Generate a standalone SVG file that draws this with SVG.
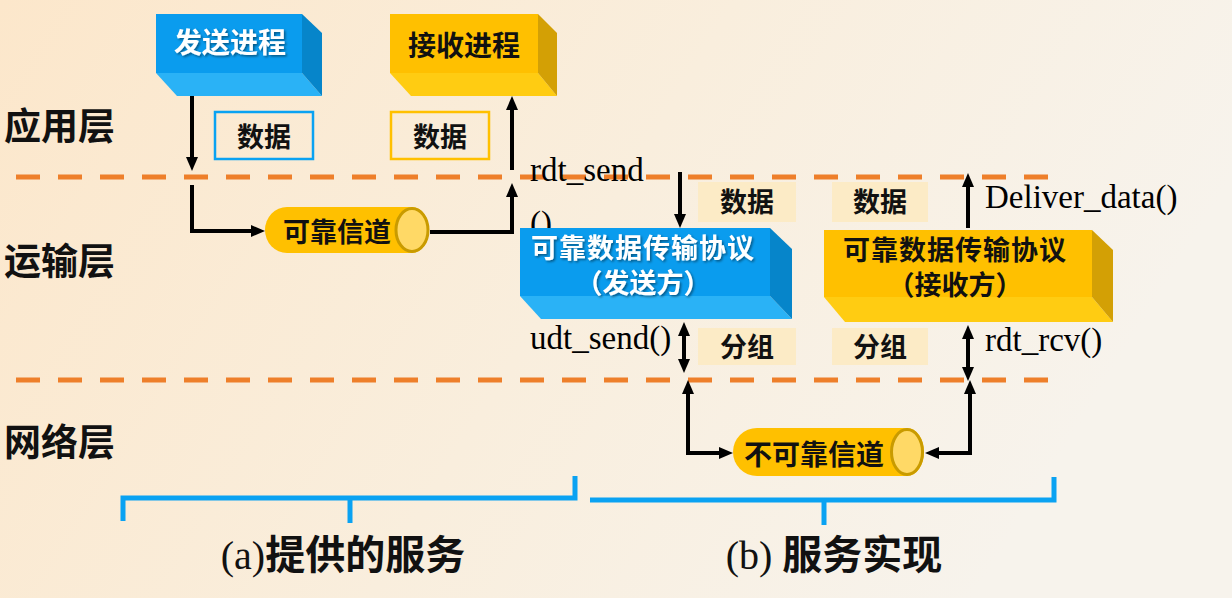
<svg xmlns="http://www.w3.org/2000/svg" width="1232" height="598" viewBox="0 0 1232 598">
  <defs>
    <linearGradient id="bg" x1="0" y1="0" x2="1" y2="0.3">
      <stop offset="0" stop-color="#fce7cb"/>
      <stop offset="0.55" stop-color="#f9eedd"/>
      <stop offset="1" stop-color="#f7f3ec"/>
    </linearGradient>
    <filter id="shadow" x="-10%" y="-20%" width="120%" height="150%">
      <feDropShadow dx="1.5" dy="1.5" stdDeviation="1" flood-color="#000" flood-opacity="0.45"/>
    </filter>
    <marker id="head" viewBox="0 0 14 12" refX="3" refY="6" markerWidth="14" markerHeight="12" markerUnits="userSpaceOnUse" orient="auto-start-reverse">
      <path d="M0,0 L14,6 L0,12 Z" fill="#000"/>
    </marker>
    <style>
      .layer { font-family: "Noto Sans CJK SC", sans-serif; font-size: 37px; font-weight: 700; fill: #111; }
      .dash { stroke: #ee7f2a; stroke-width: 5; stroke-dasharray: 24 18; fill: none; }
      .conn { stroke: #000; stroke-width: 4; fill: none; }
      .cjk { font-family: "Noto Sans CJK SC", sans-serif; font-weight: 700; text-anchor: middle; }
      .serif { font-family: "Liberation Serif", serif; font-size: 33px; fill: #000; }
      .bfront { fill: #0a9cee; }
      .bbottom { fill: #2ab2f6; }
      .bright { fill: #0685ca; }
      .yfront { fill: #ffc000; }
      .ybottom { fill: #ffcc12; }
      .yright { fill: #d3a005; }
      .tag { fill: #fcebc6; }
      .cyl { fill: #ffc000; }
      .cap { fill: #ffd966; stroke: #c99b00; stroke-width: 3; }
      .brace { stroke: #0aa2f2; stroke-width: 5; fill: none; }
    </style>
  </defs>

  <rect width="1232" height="598" fill="url(#bg)"/>

  <!-- layer names -->
  <text class="layer" x="4" y="140">应用层</text>
  <text class="layer" x="4" y="275">运输层</text>
  <text class="layer" x="4" y="456">网络层</text>

  <!-- layer boundaries -->
  <g id="boundaries">
    <line class="dash" x1="16" y1="177" x2="1048" y2="177"/>
    <line class="dash" x1="16" y1="380" x2="1048" y2="380"/>
  </g>

  <!-- function call labels -->
  <text class="serif" x="530" y="181">rdt_send</text>
  <text class="serif" x="530" y="234">()</text>
  <text class="serif" x="985" y="208">Deliver_data()</text>
  <text class="serif" x="530" y="349">udt_send()</text>
  <text class="serif" x="985" y="351">rdt_rcv()</text>

  <!-- sending process -->
  <g id="send-process">
    <rect class="bfront" x="156" y="14" width="146" height="59"/>
    <polygon class="bbottom" points="156,73 302,73 322,96 177,96"/>
    <polygon class="bright" points="302,14 322,33 322,96 302,73"/>
    <text class="cjk" x="230" y="53" font-size="28" fill="#fff" filter="url(#shadow)">发送进程</text>
  </g>

  <!-- receiving process -->
  <g id="recv-process">
    <rect class="yfront" x="390" y="14" width="148" height="59"/>
    <polygon class="ybottom" points="390,73 538,73 557,96 411,96"/>
    <polygon class="yright" points="538,14 557,33 557,96 538,73"/>
    <text class="cjk" x="464" y="56" font-size="28" fill="#111">接收进程</text>
  </g>

  <!-- data units in the application layer -->
  <g id="data-send">
    <rect x="215" y="112" width="98" height="47" fill="none" stroke="#0aa2f2" stroke-width="2.5"/>
    <text class="cjk" x="264" y="147" font-size="27" fill="#111">数据</text>
  </g>
  <g id="data-recv">
    <rect x="391" y="112" width="98" height="47" fill="none" stroke="#ffc000" stroke-width="2.5"/>
    <text class="cjk" x="440" y="147" font-size="27" fill="#111">数据</text>
  </g>

  <!-- reliable channel -->
  <g id="reliable-channel">
    <path class="cyl" d="M287 207 H412 A17 23 0 0 1 412 253 H287 A22 23 0 0 1 287 207 Z"/>
    <ellipse class="cap" cx="412" cy="230" rx="16" ry="21.5"/>
    <text class="cjk" x="337" y="242" font-size="27" fill="#111">可靠信道</text>
  </g>

  <!-- rdt sender -->
  <g id="rdt-sender">
    <rect class="bfront" x="520" y="228" width="250" height="68"/>
    <polygon class="bbottom" points="520,296 770,296 792,319 541,319"/>
    <polygon class="bright" points="770,228 792,249 792,319 770,296"/>
    <text class="cjk" x="643" y="258" font-size="27" fill="#fff" filter="url(#shadow)" letter-spacing="1">可靠数据传输协议</text>
    <text class="cjk" x="643" y="293" font-size="27" fill="#fff" filter="url(#shadow)">（发送方）</text>
  </g>

  <!-- rdt receiver -->
  <g id="rdt-receiver">
    <rect class="yfront" x="824" y="230" width="268" height="67"/>
    <polygon class="ybottom" points="824,297 1092,297 1113,322 845,322"/>
    <polygon class="yright" points="1092,230 1113,250 1113,322 1092,297"/>
    <text class="cjk" x="955" y="260" font-size="27" fill="#111" letter-spacing="1">可靠数据传输协议</text>
    <text class="cjk" x="955" y="295" font-size="27" fill="#111">（接收方）</text>
  </g>

  <!-- data / packet tags in the transport layer -->
  <g id="tag-data-1">
    <rect class="tag" x="698" y="182" width="98" height="40"/>
    <text class="cjk" x="747" y="212" font-size="27" fill="#111">数据</text>
  </g>
  <g id="tag-data-2">
    <rect class="tag" x="832" y="182" width="96" height="40"/>
    <text class="cjk" x="880" y="212" font-size="27" fill="#111">数据</text>
  </g>
  <g id="tag-packet-1">
    <rect class="tag" x="698" y="328" width="98" height="37"/>
    <text class="cjk" x="747" y="357" font-size="27" fill="#111">分组</text>
  </g>
  <g id="tag-packet-2">
    <rect class="tag" x="832" y="328" width="96" height="37"/>
    <text class="cjk" x="880" y="357" font-size="27" fill="#111">分组</text>
  </g>

  <!-- unreliable channel -->
  <g id="unreliable-channel">
    <path class="cyl" d="M757 428 H907 A17 24 0 0 1 907 476 H757 A24 24 0 0 1 757 428 Z"/>
    <ellipse class="cap" cx="907" cy="452" rx="15.5" ry="22.5"/>
    <text class="cjk" x="814" y="465" font-size="28" fill="#111">不可靠信道</text>
  </g>

  <!-- connectors -->
  <g id="connectors">
    <path class="conn" d="M192 96 V160" marker-end="url(#head)"/>
    <path class="conn" d="M192 185 V231 H254" marker-end="url(#head)"/>
    <path class="conn" d="M430 232 H512 V194" marker-end="url(#head)"/>
    <path class="conn" d="M512 170 V107" marker-end="url(#head)"/>
    <path class="conn" d="M680 172 V217" marker-end="url(#head)"/>
    <path class="conn" d="M968 228 V184" marker-end="url(#head)"/>
    <path class="conn" d="M684 333 V362" marker-start="url(#head)" marker-end="url(#head)"/>
    <path class="conn" d="M968 336 V370" marker-start="url(#head)" marker-end="url(#head)"/>
    <path class="conn" d="M688 391 V453 H722" marker-start="url(#head)" marker-end="url(#head)"/>
    <path class="conn" d="M970 391 V453 H936" marker-start="url(#head)" marker-end="url(#head)"/>
  </g>

  <!-- captions with braces -->
  <g id="caption-a">
    <path class="brace" d="M123 521 V498 H575 V476"/>
    <line class="brace" x1="350" y1="498" x2="350" y2="523"/>
    <text x="343" y="569" text-anchor="middle" font-size="40" fill="#111"><tspan font-family="Liberation Serif, serif">(a)</tspan><tspan font-family="Noto Sans CJK SC, sans-serif" font-weight="700">提供的服务</tspan></text>
  </g>
  <g id="caption-b">
    <path class="brace" d="M590 500 H1054 V477"/>
    <line class="brace" x1="824" y1="500" x2="824" y2="525"/>
    <text x="834" y="569" text-anchor="middle" font-size="40" fill="#111"><tspan font-family="Liberation Serif, serif">(b) </tspan><tspan font-family="Noto Sans CJK SC, sans-serif" font-weight="700">服务实现</tspan></text>
  </g>
</svg>
